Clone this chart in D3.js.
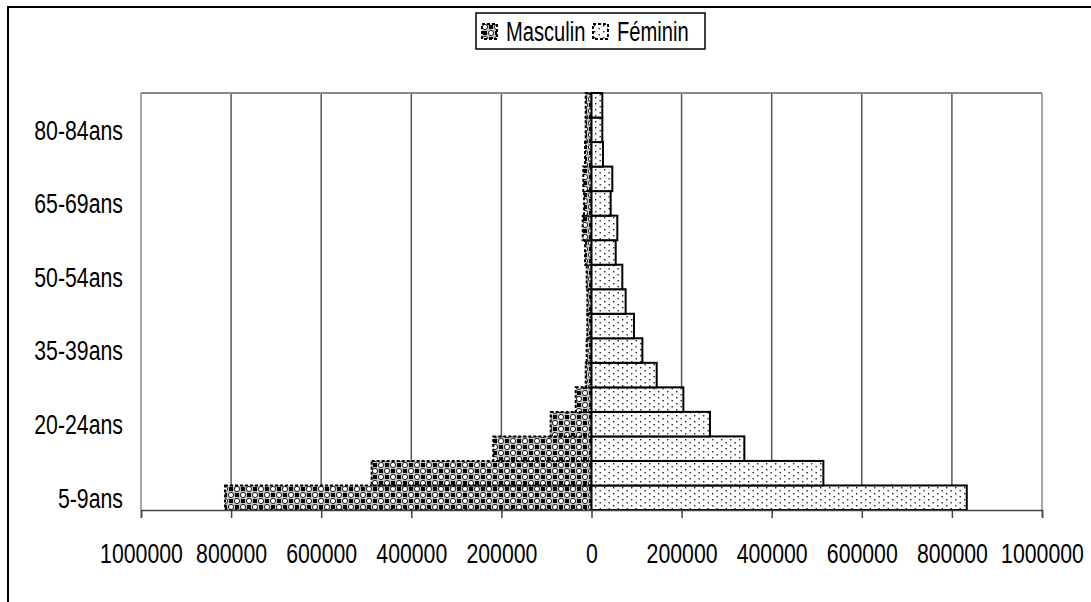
<!DOCTYPE html>
<html>
<head>
<meta charset="utf-8">
<script src="https://cdn.jsdelivr.net/npm/d3@7"></script>
<style>
  body { margin: 0; background: #fff; }
  svg { display: block; font-family: "Liberation Sans", Arial, sans-serif; }
</style>
</head>
<body>
<svg width="1091" height="602"></svg>
<script>
// age groups, bottom to top
var ages = ["5-9ans", "10-14ans", "15-19ans", "20-24ans", "25-29ans", "30-34ans",
  "35-39ans", "40-44ans", "45-49ans", "50-54ans", "55-59ans", "60-64ans",
  "65-69ans", "70-74ans", "75-79ans", "80-84ans", "85-89ans"];

var masculin = [813600, 488000, 218000, 90600, 35100, 12900, 10700, 9300, 9300,
  10700, 14400, 19500, 16600, 18200, 14400, 12900, 12900];

var feminin = [833000, 514700, 339300, 263000, 203900, 144700, 112900, 94300, 75800,
  68400, 53700, 57300, 42600, 46200, 25500, 24000, 24000];

var xTicks = [-1000000, -800000, -600000, -400000, -200000, 0, 200000, 400000, 600000, 800000, 1000000];
var seriesNames = ["Masculin", "Féminin"];

var squeeze = 0.76; // the labels are drawn narrow

var svg = d3.select("svg"),
  plot = {left: 141, right: 1042, top: 93, bottom: 510};

var x = d3.scaleLinear().domain([-1000000, 1000000]).range([plot.left, plot.right]);
var y = d3.scaleBand().domain(ages).range([plot.bottom, plot.top]).padding(0);

// fill patterns
var defs = svg.append("defs");

var pm = defs.append("pattern")
  .attr("id", "pat-m")
  .attr("patternUnits", "userSpaceOnUse")
  .attr("width", 12).attr("height", 12);
pm.append("rect").attr("width", 12).attr("height", 12).attr("fill", "#c4c4c4");
pm.append("rect").attr("x", 7).attr("y", 1).attr("width", 4).attr("height", 4).attr("fill", "#000");
pm.append("rect").attr("x", 1).attr("y", 7).attr("width", 4).attr("height", 4).attr("fill", "#000");
pm.append("circle").attr("cx", 3).attr("cy", 3).attr("r", 2.6).attr("fill", "#fff").attr("stroke", "#222").attr("stroke-width", 1);
pm.append("circle").attr("cx", 9).attr("cy", 9).attr("r", 2.6).attr("fill", "#fff").attr("stroke", "#222").attr("stroke-width", 1);

var pf = defs.append("pattern")
  .attr("id", "pat-f")
  .attr("patternUnits", "userSpaceOnUse")
  .attr("width", 9).attr("height", 6);
pf.append("rect").attr("width", 9).attr("height", 6).attr("fill", "#fff");
pf.append("rect").attr("x", 1).attr("y", 1).attr("width", 1.4).attr("height", 1.4).attr("fill", "#222");
pf.append("rect").attr("x", 5.5).attr("y", 4).attr("width", 1.4).attr("height", 1.4).attr("fill", "#222");

// outer frame (runs off the right and bottom edge)
svg.append("rect")
  .attr("x", 8).attr("y", 7)
  .attr("width", 1200).attr("height", 700)
  .attr("fill", "none")
  .attr("stroke", "#000")
  .attr("stroke-width", 2);

// gridlines
svg.append("g")
  .selectAll("line")
  .data(xTicks)
  .enter().append("line")
  .attr("x1", function(d) { return x(d); })
  .attr("x2", function(d) { return x(d); })
  .attr("y1", plot.top)
  .attr("y2", plot.bottom)
  .attr("stroke", function(d, i) { return (i == 0 || i == xTicks.length - 1) ? "#888" : "#555"; })
  .attr("stroke-width", 1.5);

svg.append("line")
  .attr("x1", plot.left).attr("x2", plot.right)
  .attr("y1", plot.top).attr("y2", plot.top)
  .attr("stroke", "#888")
  .attr("stroke-width", 2);

// bars
svg.append("g")
  .selectAll("rect")
  .data(masculin)
  .enter().append("rect")
  .attr("x", function(d) { return x(-d); })
  .attr("y", function(d, i) { return y(ages[i]); })
  .attr("width", function(d) { return x(0) - x(-d); })
  .attr("height", y.bandwidth())
  .attr("fill", "url(#pat-m)")
  .attr("stroke", "#000")
  .attr("stroke-width", 2)
  .attr("stroke-dasharray", "3,2");

svg.append("g")
  .selectAll("rect")
  .data(feminin)
  .enter().append("rect")
  .attr("x", x(0))
  .attr("y", function(d, i) { return y(ages[i]); })
  .attr("width", function(d) { return x(d) - x(0); })
  .attr("height", y.bandwidth())
  .attr("fill", "url(#pat-f)")
  .attr("stroke", "#000")
  .attr("stroke-width", 2);

// x axis
var xAxis = d3.axisBottom(x)
  .tickValues(xTicks)
  .tickSize(8)
  .tickFormat(function(d) { return Math.abs(d); });

var gx = svg.append("g")
  .attr("transform", "translate(0," + plot.bottom + ")")
  .call(xAxis);
gx.select(".domain").attr("stroke", "#444").attr("stroke-width", 1.5);
gx.selectAll(".tick line").attr("stroke", "#444").attr("stroke-width", 1.5);
gx.selectAll(".tick text")
  .attr("y", 53).attr("dy", null)
  .attr("fill", "#000")
  .style("font-size", "28px")
  .attr("transform", "scale(" + squeeze + ",1)");

// y axis, one label out of three
var yAxis = d3.axisLeft(y)
  .tickValues(ages.filter(function(d, i) { return i % 3 == 0; }))
  .tickSize(0);

var gy = svg.append("g")
  .attr("transform", "translate(" + plot.left + ",0)")
  .call(yAxis);
gy.select(".domain").remove();
gy.selectAll(".tick text")
  .attr("x", -18 / squeeze)
  .attr("dy", "0.35em")
  .attr("fill", "#000")
  .style("font-size", "28px")
  .attr("transform", "scale(" + squeeze + ",1)");

// legend
var legend = svg.append("g");
legend.append("rect")
  .attr("x", 476).attr("y", 13)
  .attr("width", 229).attr("height", 36)
  .attr("fill", "#fff")
  .attr("stroke", "#000")
  .attr("stroke-width", 1.5);

var legendX = [482, 593];
var item = legend.selectAll(".item")
  .data(seriesNames)
  .enter().append("g")
  .attr("class", "item")
  .attr("transform", function(d, i) { return "translate(" + legendX[i] + ",0)"; });

item.append("rect")
  .attr("x", 0).attr("y", 24)
  .attr("width", 15).attr("height", 15)
  .attr("fill", function(d, i) { return i == 0 ? "url(#pat-m)" : "url(#pat-f)"; })
  .attr("stroke", "#000")
  .attr("stroke-width", 2)
  .attr("stroke-dasharray", "3,2");

item.append("text")
  .attr("transform", "translate(24,41) scale(0.72,1)")
  .style("font-size", "28px")
  .attr("fill", "#000")
  .text(function(d) { return d; });
</script>
</body>
</html>
